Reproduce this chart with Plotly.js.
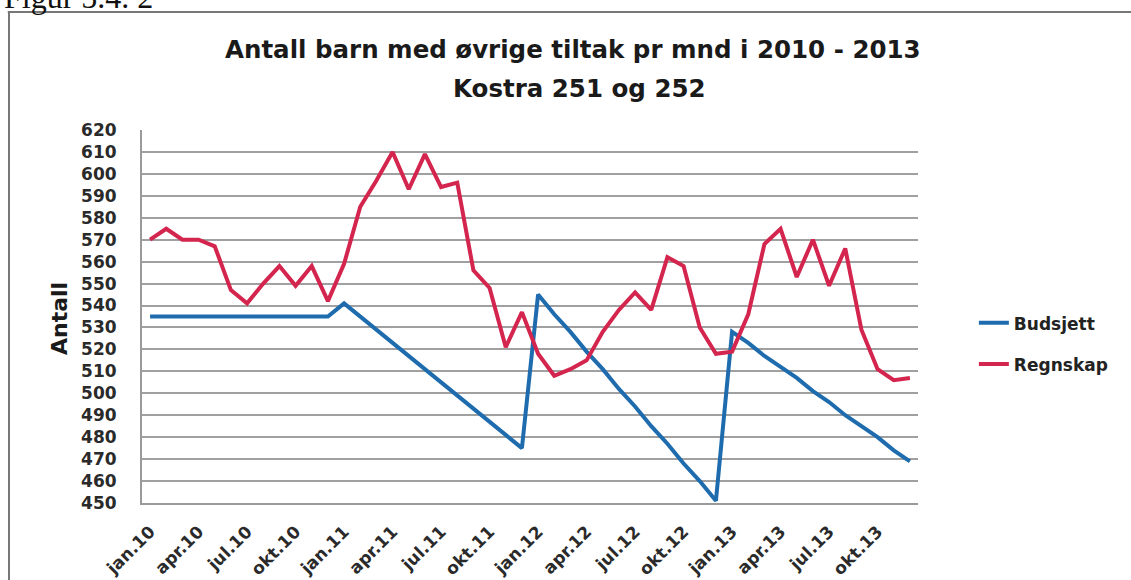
<!DOCTYPE html>
<html>
<head>
<meta charset="utf-8">
<script src="https://cdn.plot.ly/plotly-3.0.1.min.js"></script>
<style>html,body{margin:0;padding:0;background:#fff;}</style>
</head>
<body>
<div id="chart" style="width:1131px;height:580px;"></div>
<script>
// Categories: months jan 2010 - des 2013
const months = [
  "jan.10","feb.10","mar.10","apr.10","mai.10","jun.10","jul.10","aug.10","sep.10","okt.10","nov.10","des.10",
  "jan.11","feb.11","mar.11","apr.11","mai.11","jun.11","jul.11","aug.11","sep.11","okt.11","nov.11","des.11",
  "jan.12","feb.12","mar.12","apr.12","mai.12","jun.12","jul.12","aug.12","sep.12","okt.12","nov.12","des.12",
  "jan.13","feb.13","mar.13","apr.13","mai.13","jun.13","jul.13","aug.13","sep.13","okt.13","nov.13","des.13"
];
const tickLabels = ["jan.10","apr.10","jul.10","okt.10","jan.11","apr.11","jul.11","okt.11",
  "jan.12","apr.12","jul.12","okt.12","jan.13","apr.13","jul.13","okt.13"];

const budsjett = [
  535, 535, 535, 535, 535, 535, 535, 535, 535, 535, 535, 535,
  541, 535, 529, 523, 517, 511, 505, 499, 493, 487, 481, 475,
  545, 536, 528, 519, 511, 502, 494, 485, 477, 468, 460, 451,
  528, 523, 517, 512, 507, 501, 496, 490, 485, 480, 474, 469
];
const regnskap = [
  570, 575, 570, 570, 567, 547, 541, 550, 558, 549, 558, 542,
  559, 585, 597, 610, 593, 609, 594, 596, 556, 548, 521, 537,
  518, 508, 511, 515, 528, 538, 546, 538, 562, 558, 530, 518,
  519, 536, 568, 575, 553, 570, 549, 566, 529, 511, 506, 507
];

const FONT = "DejaVu Sans";
const traces = [
  {x: months, y: budsjett, name: "Budsjett", type: "scatter", mode: "lines",
   line: {color: "#1e6cad", width: 4}, legendgroup: "a"},
  {x: months, y: regnskap, name: "Regnskap", type: "scatter", mode: "lines",
   line: {color: "#d3254d", width: 4}, legendgroup: "b"}
];

const layout = {
  width: 1131, height: 580,
  margin: {l: 142, r: 213, t: 130, b: 77, pad: 0},
  paper_bgcolor: "#ffffff", plot_bgcolor: "#ffffff",
  font: {family: FONT, color: "#222"},
  showlegend: true,
  legend: {x: 1.072, xanchor: "left", y: 0.53, yanchor: "top",
    font: {family: FONT, size: 17, color: "#222", weight: "bold"}, tracegroupgap: 16,
    bgcolor: "rgba(0,0,0,0)"},
  xaxis: {type: "category", range: [-0.5, 47.5], tickvals: tickLabels, ticktext: tickLabels,
    tickangle: -45, tickfont: {family: FONT, size: 17, color: "#2a2a2a", weight: "bold"},
    showgrid: false, showline: true, linecolor: "#9a9a9a", linewidth: 2,
    ticks: "", ticklabelstandoff: 10, zeroline: false, fixedrange: true},
  yaxis: {range: [450, 620], dtick: 10, tick0: 450,
    tickfont: {family: FONT, size: 17, color: "#2a2a2a", weight: "bold"},
    showgrid: true, gridcolor: "#a0a0a0", gridwidth: 2,
    showline: true, linecolor: "#9a9a9a", linewidth: 2,
    ticks: "", ticklabelstandoff: 20, zeroline: false, fixedrange: true},
  annotations: [
    {text: "<b>Antall barn med øvrige tiltak pr mnd i 2010 - 2013</b>", xref: "paper", yref: "paper",
     x: 0.556, y: 1.2145, xanchor: "center", yanchor: "middle", showarrow: false,
     font: {family: FONT, size: 24.5, color: "#1a1a1a"}},
    {text: "<b>Kostra 251 og 252</b>", xref: "paper", yref: "paper",
     x: 0.564, y: 1.11, xanchor: "center", yanchor: "middle", showarrow: false,
     font: {family: FONT, size: 24.5, color: "#1a1a1a"}},
    {text: "<b>Antall</b>", xref: "paper", yref: "paper", textangle: -90,
     x: -0.1057, y: 0.496, xanchor: "center", yanchor: "middle", showarrow: false,
     font: {family: FONT, size: 22, color: "#1a1a1a"}},
    {text: "Figur 5.4. 2", xref: "paper", yref: "paper",
     x: -0.18, y: 1.303, xanchor: "left", yanchor: "bottom", showarrow: false,
     font: {family: "Liberation Serif", size: 32, color: "#111"}}
  ],
  shapes: [
    {type: "line", xref: "paper", yref: "paper", x0: -0.173, x1: 1.3, y0: 1.3164, y1: 1.3164,
     line: {color: "#777", width: 2}},
    {type: "line", xref: "paper", yref: "paper", x0: -0.1714, x1: -0.1714, y0: 1.3164, y1: -0.3,
     line: {color: "#777", width: 2}}
  ]
};

Plotly.newPlot("chart", traces, layout, {displayModeBar: false, staticPlot: true});
</script>
</body>
</html>
